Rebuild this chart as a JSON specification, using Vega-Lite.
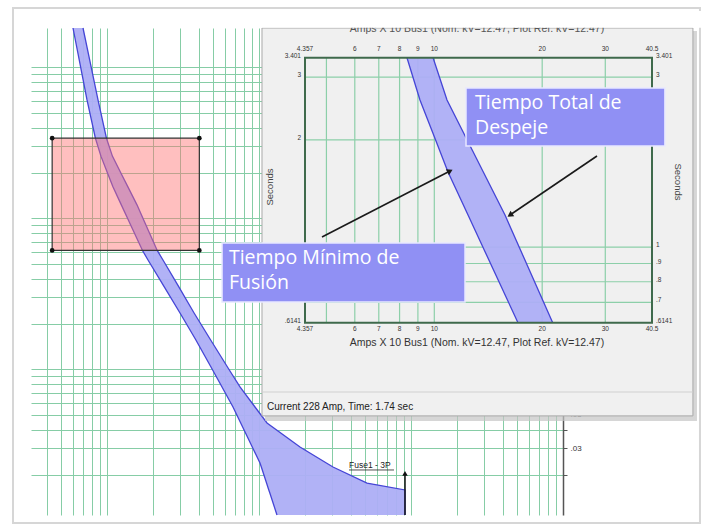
{
  "$schema": "https://vega.github.io/schema/vega-lite/v6.json",
  "width": 532,
  "height": 487,
  "padding": {"left": 31, "top": 28, "right": 139, "bottom": 16},
  "autosize": {"type": "none"},
  "background": "white",
  "config": {"view": {"stroke": null}, "font": "Liberation Sans"},
  "datasets": {
    "curve": [
      {"t": 0.01087, "lo": 131.3, "hi": 913.1},
      {"t": 0.01514, "lo": 118.0, "hi": 913.1},
      {"t": 0.01592, "lo": 116.0, "hi": 913.1},
      {"t": 0.0177, "lo": 112.1, "hi": 513.5},
      {"t": 0.0226, "lo": 103.6, "hi": 306.8},
      {"t": 0.02403, "lo": 101.5, "hi": 277.5},
      {"t": 0.03068, "lo": 90.3, "hi": 186.1},
      {"t": 0.04421, "lo": 75.8, "hi": 112.9},
      {"t": 0.05644, "lo": 67.44, "hi": 94.1},
      {"t": 0.0766, "lo": 57.1, "hi": 74.99},
      {"t": 0.1, "lo": 49.34, "hi": 63.5},
      {"t": 0.1585, "lo": 38.2, "hi": 47.75},
      {"t": 0.2367, "lo": 30.22, "hi": 37.4},
      {"t": 0.3548, "lo": 23.7, "hi": 29.56},
      {"t": 0.5311, "lo": 18.61, "hi": 23.35},
      {"t": 0.6141, "lo": 17.12, "hi": 21.4},
      {"t": 1.0, "lo": 13.67, "hi": 17.26},
      {"t": 1.231, "lo": 12.42, "hi": 15.75},
      {"t": 1.626, "lo": 10.92, "hi": 13.7},
      {"t": 1.995, "lo": 10.09, "hi": 12.36},
      {"t": 2.588, "lo": 9.12, "hi": 10.85},
      {"t": 3.401, "lo": 8.39, "hi": 9.92},
      {"t": 6.093, "lo": 7.387, "hi": 8.726},
      {"t": 10.0, "lo": 6.713, "hi": 7.876},
      {"t": 18.26, "lo": 5.975, "hi": 6.953}
    ],
    "frame": [{"x1": 2.407, "x2": 79640, "t1": 0.009625, "t2": 24.77}],
    "zoomrect": [{"x1": 4.357, "x2": 40.5, "t1": 0.6141, "t2": 3.401}],
    "corners": [
      {"x": 4.357, "t": 0.6141}, {"x": 40.5, "t": 0.6141},
      {"x": 4.357, "t": 3.401}, {"x": 40.5, "t": 3.401}
    ],
    "fuse": [{"x": 390.9, "t": 0.02331, "text": "Fuse1 - 3P", "ux": 772.8, "ut": 0.0216}],
    "fusearrow": [{"x": 913.1, "t1": 0.01087, "t2": 0.0205}],
    "win": [{"x1": 3.305, "x2": 52.68, "t1": 0.3364, "t2": 4.12}],
    "shadow": [{"x1": 3.37, "x2": 54.07, "t1": 0.3255, "t2": 4.041}],
    "cover": [{"x1": 3.2, "x2": 56.0, "t1": 4.13, "t2": 4.6}],
    "statusline": [{"x1": 3.305, "x2": 52.68, "t": 0.3925}],
    "gridV": [{"v": 5}, {"v": 6}, {"v": 7}, {"v": 8}, {"v": 9}, {"v": 10}, {"v": 20}, {"v": 30}],
    "gridH": [{"t": 0.7}, {"t": 0.8}, {"t": 0.9}, {"t": 1}, {"t": 2}, {"t": 3}],
    "plotframe": [{"x1": 4.357, "x2": 40.5, "t1": 0.6141, "t2": 3.401}],
    "xlabels": [
      {"v": 4.357, "label": "4.357"}, {"v": 6, "label": "6"}, {"v": 7, "label": "7"},
      {"v": 8, "label": "8"}, {"v": 9, "label": "9"}, {"v": 10, "label": "10"},
      {"v": 20, "label": "20"}, {"v": 30, "label": "30"}, {"v": 40.5, "label": "40.5"}
    ],
    "ylabelsLeft": [
      {"t": 3.401, "label": "3.401"}, {"t": 3, "label": "3"}, {"t": 2, "label": "2"},
      {"t": 0.6141, "label": ".6141"}
    ],
    "ylabels": [
      {"t": 3.401, "label": "3.401"}, {"t": 3, "label": "3"}, {"t": 2, "label": "2"},
      {"t": 1, "label": "1"}, {"t": 0.9, "label": ".9"}, {"t": 0.8, "label": ".8"},
      {"t": 0.7, "label": ".7"}, {"t": 0.6141, "label": ".6141"}
    ],
    "texts": [
      {"v": 3.48, "t": 1.475, "text": "Seconds", "side": "left"},
      {"v": 47.84, "t": 1.524, "text": "Seconds", "side": "right"}
    ],
    "xtitle": [{"v": 13.15, "t": 0.5386, "text": "Amps  X  10   Bus1 (Nom. kV=12.47, Plot Ref. kV=12.47)"}],
    "toptitle": [{"v": 13.15, "t": 4.093, "text": "Amps  X  10   Bus1 (Nom. kV=12.47, Plot Ref. kV=12.47)"}],
    "status": [{"v": 3.413, "t": 0.3561, "text": "Current 228 Amp,  Time: 1.74 sec"}],
    "boxes": [
      {"x1": 12.26, "x2": 44.0, "t1": 1.923, "t2": 2.796},
      {"x1": 2.557, "x2": 12.18, "t1": 0.702, "t2": 1.0274}
    ],
    "notes": [
      {"v": 12.99, "t": 2.538, "text": "Tiempo Total de"},
      {"v": 12.99, "t": 2.16, "text": "Despeje"},
      {"v": 2.673, "t": 0.9326, "text": "Tiempo Mínimo de"},
      {"v": 2.673, "t": 0.7935, "text": "Fusión"}
    ],
    "arrows": [
      {"id": "a", "v1": 4.86, "t1": 1.068, "v2": 11.06, "t2": 1.636},
      {"id": "b", "v1": 28.44, "t1": 1.8026, "v2": 16.26, "t2": 1.231}
    ]
  },
  "layer": [
    {
      "layer": [
        {
          "data": {"name": "frame"},
          "mark": {"type": "rect", "fill": null, "stroke": "#d6d6d6", "strokeWidth": 2},
          "encoding": {
            "x": {"field": "x1", "type": "quantitative", "scale": {"type": "log", "domain": [3.1623, 10000], "nice": false},
              "axis": {"orient": "bottom", "grid": true, "gridColor": "#86cda6", "gridWidth": 1, "labels": false, "ticks": false, "domain": false, "title": null,
                "values": [4, 5, 6, 7, 8, 9, 10, 20, 30, 40, 50, 60, 70, 80, 90, 100, 200, 300, 400, 500, 600, 700, 800, 900, 1000, 2000, 3000, 4000, 5000, 6000, 7000, 8000, 9000]}},
            "x2": {"field": "x2"},
            "y": {"field": "t1", "type": "quantitative", "scale": {"type": "log", "domain": [0.01087, 18.26], "nice": false},
              "axis": {"orient": "right", "grid": true, "gridColor": "#86cda6", "gridWidth": 1, "title": null,
                "values": [0.02, 0.03, 0.04, 0.05, 0.06, 0.07, 0.08, 0.09, 0.1, 0.2, 0.3, 0.4, 0.5, 0.6, 0.7, 0.8, 0.9, 1, 2, 3, 4, 5, 6, 7, 8, 9, 10],
                "labelExpr": "datum.value == 0.03 ? '.03' : (datum.value == 0.05 ? '.05' : '')",
                "domainColor": "#555555", "domainWidth": 1.5, "tickColor": "#555555", "tickSize": 4, "labelFontSize": 8, "labelColor": "#333333", "labelPadding": 3}},
            "y2": {"field": "t2"}
          }
        },
        {
          "data": {"name": "curve"},
          "mark": {"type": "area", "orient": "horizontal", "fill": "#adaef6", "opacity": 0.95},
          "encoding": {
            "y": {"field": "t", "type": "quantitative"},
            "x": {"field": "lo", "type": "quantitative"},
            "x2": {"field": "hi"}
          }
        },
        {
          "data": {"name": "curve"},
          "mark": {"type": "line", "color": "#4545d6", "strokeWidth": 1.3},
          "encoding": {
            "y": {"field": "t", "type": "quantitative"},
            "x": {"field": "lo", "type": "quantitative"},
            "order": {"field": "t", "type": "quantitative"}
          }
        },
        {
          "data": {"name": "curve"},
          "mark": {"type": "line", "color": "#4545d6", "strokeWidth": 1.3},
          "encoding": {
            "y": {"field": "t", "type": "quantitative"},
            "x": {"field": "hi", "type": "quantitative"},
            "order": {"field": "t", "type": "quantitative"}
          }
        },
        {
          "data": {"name": "zoomrect"},
          "mark": {"type": "rect", "fill": "#ff7070", "fillOpacity": 0.45, "stroke": "#333333", "strokeWidth": 1.2},
          "encoding": {
            "x": {"field": "x1", "type": "quantitative"},
            "x2": {"field": "x2"},
            "y": {"field": "t1", "type": "quantitative"},
            "y2": {"field": "t2"}
          }
        },
        {
          "data": {"name": "corners"},
          "mark": {"type": "point", "filled": true, "color": "#111111", "size": 22, "opacity": 1},
          "encoding": {
            "x": {"field": "x", "type": "quantitative"},
            "y": {"field": "t", "type": "quantitative"}
          }
        },
        {
          "data": {"name": "fuse"},
          "mark": {"type": "text", "align": "left", "baseline": "middle", "fontSize": 8.5, "color": "#222222"},
          "encoding": {
            "x": {"field": "x", "type": "quantitative"},
            "y": {"field": "t", "type": "quantitative"},
            "text": {"field": "text"}
          }
        },
        {
          "data": {"name": "fuse"},
          "mark": {"type": "rule", "color": "#222222", "strokeWidth": 0.8},
          "encoding": {
            "x": {"field": "x", "type": "quantitative"},
            "x2": {"field": "ux"},
            "y": {"field": "ut", "type": "quantitative"}
          }
        },
        {
          "data": {"name": "fusearrow"},
          "mark": {"type": "rule", "color": "#111111", "strokeWidth": 1.5},
          "encoding": {
            "x": {"field": "x", "type": "quantitative"},
            "y": {"field": "t1", "type": "quantitative"},
            "y2": {"field": "t2"}
          }
        },
        {
          "data": {"name": "fusearrow"},
          "mark": {"type": "point", "shape": "triangle-up", "filled": true, "color": "#111111", "size": 30, "opacity": 1},
          "encoding": {
            "x": {"field": "x", "type": "quantitative"},
            "y": {"field": "t2", "type": "quantitative"}
          }
        }
      ]
    },
    {
      "layer": [
        {
          "data": {"name": "shadow"},
          "mark": {"type": "rect", "fill": "#c4c4c4", "opacity": 0.7},
          "encoding": {
            "x": {"field": "x1", "type": "quantitative", "scale": {"type": "log", "domain": [4.357, 40.5], "range": [274, 621], "nice": false}, "axis": null},
            "x2": {"field": "x2"},
            "y": {"field": "t1", "type": "quantitative", "scale": {"type": "log", "domain": [0.6141, 3.401], "range": [294.7, 29.7], "nice": false}, "axis": null},
            "y2": {"field": "t2"}
          }
        },
        {
          "data": {"name": "win"},
          "mark": {"type": "rect", "fill": "#f0f0f0", "stroke": "#a8a8a8", "strokeWidth": 1},
          "encoding": {
            "x": {"field": "x1", "type": "quantitative"},
            "x2": {"field": "x2"},
            "y": {"field": "t1", "type": "quantitative"},
            "y2": {"field": "t2"}
          }
        },
        {
          "data": {"name": "toptitle"},
          "mark": {"type": "text", "fontSize": 10.5, "color": "#555555", "baseline": "middle"},
          "encoding": {
            "x": {"field": "v", "type": "quantitative"},
            "y": {"field": "t", "type": "quantitative"},
            "text": {"field": "text"}
          }
        },
        {
          "data": {"name": "cover"},
          "mark": {"type": "rect", "fill": "#ffffff"},
          "encoding": {
            "x": {"field": "x1", "type": "quantitative"},
            "x2": {"field": "x2"},
            "y": {"field": "t1", "type": "quantitative"},
            "y2": {"field": "t2"}
          }
        },
        {
          "data": {"name": "statusline"},
          "mark": {"type": "rule", "color": "#d0d0d0", "strokeWidth": 1},
          "encoding": {
            "x": {"field": "x1", "type": "quantitative"},
            "x2": {"field": "x2"},
            "y": {"field": "t", "type": "quantitative"}
          }
        },
        {
          "data": {"name": "gridV"},
          "mark": {"type": "rule", "color": "#8ccfa9", "strokeWidth": 1.2},
          "encoding": {
            "x": {"field": "v", "type": "quantitative"},
            "y": {"datum": 0.6141, "type": "quantitative"},
            "y2": {"datum": 3.401}
          }
        },
        {
          "data": {"name": "gridH"},
          "mark": {"type": "rule", "color": "#8ccfa9", "strokeWidth": 1.2},
          "encoding": {
            "y": {"field": "t", "type": "quantitative"},
            "x": {"datum": 4.357, "type": "quantitative"},
            "x2": {"datum": 40.5}
          }
        },
        {
          "data": {"name": "curve"},
          "transform": [{"filter": "datum.t >= 0.614 && datum.t <= 3.402"}],
          "mark": {"type": "area", "orient": "horizontal", "fill": "#adaef6", "opacity": 0.95},
          "encoding": {
            "y": {"field": "t", "type": "quantitative"},
            "x": {"field": "lo", "type": "quantitative"},
            "x2": {"field": "hi"}
          }
        },
        {
          "data": {"name": "curve"},
          "transform": [{"filter": "datum.t >= 0.614 && datum.t <= 3.402"}],
          "mark": {"type": "line", "color": "#4545d6", "strokeWidth": 1.3},
          "encoding": {
            "y": {"field": "t", "type": "quantitative"},
            "x": {"field": "lo", "type": "quantitative"},
            "order": {"field": "t", "type": "quantitative"}
          }
        },
        {
          "data": {"name": "curve"},
          "transform": [{"filter": "datum.t >= 0.614 && datum.t <= 3.402"}],
          "mark": {"type": "line", "color": "#4545d6", "strokeWidth": 1.3},
          "encoding": {
            "y": {"field": "t", "type": "quantitative"},
            "x": {"field": "hi", "type": "quantitative"},
            "order": {"field": "t", "type": "quantitative"}
          }
        },
        {
          "data": {"name": "plotframe"},
          "mark": {"type": "rect", "fill": null, "stroke": "#3f6a4c", "strokeWidth": 2},
          "encoding": {
            "x": {"field": "x1", "type": "quantitative"},
            "x2": {"field": "x2"},
            "y": {"field": "t1", "type": "quantitative"},
            "y2": {"field": "t2"}
          }
        },
        {
          "data": {"name": "xlabels"},
          "mark": {"type": "text", "fontSize": 6.5, "color": "#333333", "dy": -9, "baseline": "middle"},
          "encoding": {
            "x": {"field": "v", "type": "quantitative"},
            "y": {"datum": 3.401, "type": "quantitative"},
            "text": {"field": "label"}
          }
        },
        {
          "data": {"name": "xlabels"},
          "mark": {"type": "text", "fontSize": 6.5, "color": "#333333", "dy": 6, "baseline": "middle"},
          "encoding": {
            "x": {"field": "v", "type": "quantitative"},
            "y": {"datum": 0.6141, "type": "quantitative"},
            "text": {"field": "label"}
          }
        },
        {
          "data": {"name": "ylabelsLeft"},
          "mark": {"type": "text", "fontSize": 6.5, "color": "#333333", "dx": -4, "dy": -2, "align": "right", "baseline": "middle"},
          "encoding": {
            "y": {"field": "t", "type": "quantitative"},
            "x": {"datum": 4.357, "type": "quantitative"},
            "text": {"field": "label"}
          }
        },
        {
          "data": {"name": "ylabels"},
          "mark": {"type": "text", "fontSize": 6.5, "color": "#333333", "dx": 4, "dy": -2, "align": "left", "baseline": "middle"},
          "encoding": {
            "y": {"field": "t", "type": "quantitative"},
            "x": {"datum": 40.5, "type": "quantitative"},
            "text": {"field": "label"}
          }
        },
        {
          "data": {"name": "texts"},
          "transform": [{"filter": "datum.side == 'left'"}],
          "mark": {"type": "text", "fontSize": 9.5, "color": "#444444", "angle": 270, "baseline": "middle"},
          "encoding": {
            "x": {"field": "v", "type": "quantitative"},
            "y": {"field": "t", "type": "quantitative"},
            "text": {"field": "text"}
          }
        },
        {
          "data": {"name": "texts"},
          "transform": [{"filter": "datum.side == 'right'"}],
          "mark": {"type": "text", "fontSize": 9.5, "color": "#444444", "angle": 90, "baseline": "middle"},
          "encoding": {
            "x": {"field": "v", "type": "quantitative"},
            "y": {"field": "t", "type": "quantitative"},
            "text": {"field": "text"}
          }
        },
        {
          "data": {"name": "xtitle"},
          "mark": {"type": "text", "fontSize": 10.5, "color": "#333333", "baseline": "middle"},
          "encoding": {
            "x": {"field": "v", "type": "quantitative"},
            "y": {"field": "t", "type": "quantitative"},
            "text": {"field": "text"}
          }
        },
        {
          "data": {"name": "status"},
          "mark": {"type": "text", "fontSize": 10, "color": "#222222", "align": "left", "baseline": "middle"},
          "encoding": {
            "x": {"field": "v", "type": "quantitative"},
            "y": {"field": "t", "type": "quantitative"},
            "text": {"field": "text"}
          }
        },
        {
          "data": {"name": "boxes"},
          "mark": {"type": "rect", "fill": "#9090f4", "stroke": "#e8e8ff", "strokeWidth": 1.5},
          "encoding": {
            "x": {"field": "x1", "type": "quantitative"},
            "x2": {"field": "x2"},
            "y": {"field": "t1", "type": "quantitative"},
            "y2": {"field": "t2"}
          }
        },
        {
          "data": {"name": "notes"},
          "mark": {"type": "text", "font": "Open Sans", "fontSize": 19.5, "color": "#ffffff", "align": "left", "baseline": "middle"},
          "encoding": {
            "x": {"field": "v", "type": "quantitative"},
            "y": {"field": "t", "type": "quantitative"},
            "text": {"field": "text"}
          }
        },
        {
          "data": {"name": "arrows"},
          "mark": {"type": "rule", "color": "#1a1a1a", "strokeWidth": 1.6},
          "encoding": {
            "x": {"field": "v1", "type": "quantitative"},
            "x2": {"field": "v2"},
            "y": {"field": "t1", "type": "quantitative"},
            "y2": {"field": "t2"}
          }
        },
        {
          "data": {"name": "arrows"},
          "transform": [{"filter": "datum.id == 'a'"}],
          "mark": {"type": "point", "shape": "triangle-up", "filled": true, "color": "#1a1a1a", "size": 45, "opacity": 1, "angle": 63},
          "encoding": {
            "x": {"field": "v2", "type": "quantitative"},
            "y": {"field": "t2", "type": "quantitative"}
          }
        },
        {
          "data": {"name": "arrows"},
          "transform": [{"filter": "datum.id == 'b'"}],
          "mark": {"type": "point", "shape": "triangle-up", "filled": true, "color": "#1a1a1a", "size": 45, "opacity": 1, "angle": 236},
          "encoding": {
            "x": {"field": "v2", "type": "quantitative"},
            "y": {"field": "t2", "type": "quantitative"}
          }
        }
      ]
    }
  ],
  "resolve": {"scale": {"x": "independent", "y": "independent"}}
}
